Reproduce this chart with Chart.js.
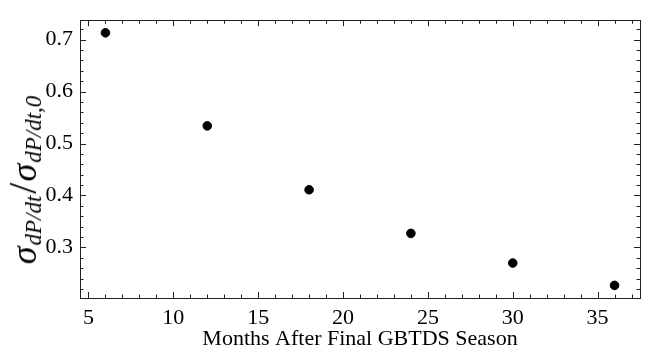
<!DOCTYPE html>
<html>
<head>
<meta charset="utf-8">
<script src="https://cdn.jsdelivr.net/npm/chart.js@4"></script>
<style>
  html, body { margin: 0; padding: 0; background: #fff; }
  #wrap { position: relative; width: 657px; height: 349px; }
  #ylab {
    position: absolute; left: 23px; top: 180px;
    transform: translate(-50%, -50%) rotate(-90deg);
    white-space: nowrap;
    font-family: "Liberation Serif", "DejaVu Serif", serif;
    line-height: 1; color: #000;
  }
  #ylab .s { font-style: italic; font-size: 36px; }
  #ylab .sb { font-style: italic; font-size: 23px; position: relative; top: 0.2em; margin-left: 1px; }
  #ylab .sl { font-size: 40px; margin: 0 1px 0 2px; }
</style>
</head>
<body>
<div id="wrap">
  <canvas id="chart" width="657" height="349"></canvas>
  <div id="ylab"><span class="s">σ</span><span class="sb">dP/dt</span><span class="sl">/</span><span class="s">σ</span><span class="sb">dP/dt,0</span></div>
</div>
<script>
const months = [6, 12, 18, 24, 30, 36];
const ratio = [0.713, 0.534, 0.411, 0.327, 0.270, 0.227];
const xTicks = [5, 10, 15, 20, 25, 30, 35];
const yTicks = [0.3, 0.4, 0.5, 0.6, 0.7];

const serif = '"Liberation Serif", "DejaVu Serif", serif';

// 5% margins round the data, like the usual autoscale
const xPad = 0.05 * (Math.max(...months) - Math.min(...months));
const yPad = 0.05 * (Math.max(...ratio) - Math.min(...ratio));

// inward ticks on all four sides plus the frame
const insideTicks = {
    id: 'insideTicks',
    afterDraw(chart) {
        const { ctx, chartArea: a, scales: { x, y } } = chart;
        ctx.save();
        ctx.strokeStyle = '#222';
        ctx.lineWidth = 1;
        ctx.strokeRect(Math.round(a.left) + 0.5, Math.round(a.top) + 0.5,
            Math.round(a.right - a.left), Math.round(a.bottom - a.top));
        ctx.beginPath();
        for (let v = Math.ceil(x.min); v <= x.max; v++) {
            const len = xTicks.includes(v) ? 6 : 3.5;
            const px = Math.round(x.getPixelForValue(v)) + 0.5;
            ctx.moveTo(px, a.bottom); ctx.lineTo(px, a.bottom - len);
            ctx.moveTo(px, a.top); ctx.lineTo(px, a.top + len);
        }
        for (let i = Math.ceil(y.min * 50); i <= y.max * 50; i++) {
            const v = i / 50;
            const major = yTicks.some(t => Math.abs(t - v) < 1e-6);
            const len = major ? 6 : 3.5;
            const py = Math.round(y.getPixelForValue(v)) + 0.5;
            ctx.moveTo(a.left, py); ctx.lineTo(a.left + len, py);
            ctx.moveTo(a.right, py); ctx.lineTo(a.right - len, py);
        }
        ctx.stroke();
        ctx.restore();
    }
};

new Chart(document.getElementById('chart'), {
    type: 'scatter',
    data: {
        datasets: [{
            data: months.map((m, i) => ({ x: m, y: ratio[i] })),
            backgroundColor: '#000',
            borderColor: '#000',
            pointRadius: 4.3,
            pointHoverRadius: 4.3
        }]
    },
    options: {
        responsive: false,
        animation: false,
        layout: { padding: { left: 0, top: 10, right: 17, bottom: 0 } },
        plugins: { legend: { display: false }, tooltip: { enabled: false } },
        scales: {
            x: {
                type: 'linear',
                min: Math.min(...months) - xPad,
                max: Math.max(...months) + xPad,
                afterBuildTicks: s => { s.ticks = xTicks.map(v => ({ value: v })); },
                afterFit: s => { s.height = 51; },
                grid: { display: false, drawTicks: false },
                border: { display: false },
                ticks: {
                    padding: 7,
                    color: '#000',
                    font: { family: serif, size: 22 },
                    maxRotation: 0
                },
                title: {
                    display: true,
                    text: 'Months After Final GBTDS Season',
                    color: '#000',
                    font: { family: serif, size: 22 },
                    padding: { top: 0, bottom: -3 }
                }
            },
            y: {
                min: Math.min(...ratio) - yPad,
                max: Math.max(...ratio) + yPad,
                afterBuildTicks: s => { s.ticks = yTicks.map(v => ({ value: v })); },
                afterFit: s => { s.width = 80; },
                grid: { display: false, drawTicks: false },
                border: { display: false },
                ticks: {
                    padding: 7,
                    color: '#000',
                    font: { family: serif, size: 22 },
                    callback: v => v.toFixed(1)
                }
            }
        }
    },
    plugins: [insideTicks]
});
</script>
</body>
</html>
